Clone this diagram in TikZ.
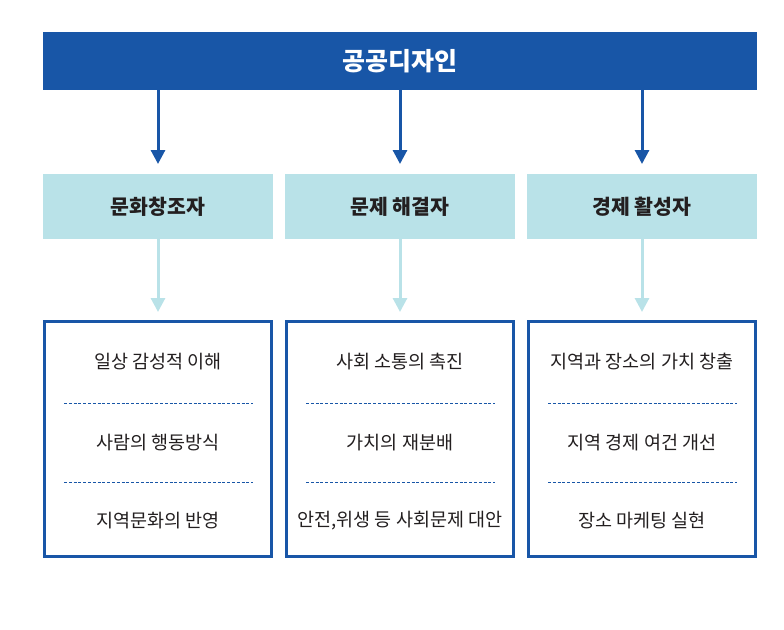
\documentclass[tikz,border=0pt]{standalone}
\usepackage{fontspec}
\setmainfont{Noto Sans CJK KR}
\usetikzlibrary{arrows.meta}
\definecolor{dblue}{HTML}{1856A7}
\definecolor{lblue}{HTML}{B9E2E8}
\definecolor{txt}{HTML}{231F20}
\begin{document}
\begin{tikzpicture}[x=1pt,y=-1pt,
  topbox/.style={fill=dblue,draw=none,minimum width=714pt,minimum height=58pt,inner sep=0pt,text=white,font=\bfseries\fontsize{25}{30}\selectfont},
  midbox/.style={fill=lblue,draw=none,minimum width=230pt,minimum height=65pt,inner sep=0pt,text=txt,font=\bfseries\fontsize{20.5}{24}\selectfont},
  botbox/.style={draw=dblue,line width=3pt,fill=white,minimum width=227pt,minimum height=235pt,inner sep=0pt},
  item/.style={text=txt,font=\fontsize{18.5}{22}\selectfont,inner sep=0pt},
  darr/.style={draw=dblue,line width=3pt,-{Triangle[width=14pt,length=14pt]}},
  larr/.style={draw=lblue,line width=3pt,-{Triangle[width=14pt,length=14pt]}},
  sep/.style={draw=dblue,line width=0.7pt,dash pattern=on 3pt off 1.8pt}]
\useasboundingbox (0,0) rectangle (784,629);
\node[topbox] (top) at (400,61) {공공디자인};
\node[midbox] (m1) at (158,206.5) {문화창조자};
\node[midbox] (m2) at (400,206.5) {문제 해결자};
\node[midbox] (m3) at (642,206.5) {경제 활성자};
\node[botbox] (b1) at (158,439) {};
\node[botbox] (b2) at (400,439) {};
\node[botbox] (b3) at (642,439) {};
\coordinate (t1) at (158,90); \coordinate (t2) at (400,90); \coordinate (t3) at (642,90);
\coordinate (e1) at (158,164); \coordinate (e2) at (400,164); \coordinate (e3) at (642,164);
\coordinate (f1) at (158,312); \coordinate (f2) at (400,312); \coordinate (f3) at (642,312);
\draw[darr] (t1) -- (e1);
\draw[darr] (t2) -- (e2);
\draw[darr] (t3) -- (e3);
\draw[larr] (m1.south) -- (f1);
\draw[larr] (m2.south) -- (f2);
\draw[larr] (m3.south) -- (f3);
\foreach \c in {158,400,642}{
  \draw[sep] (\c-94,403) -- (\c+95,403);
  \draw[sep] (\c-94,482) -- (\c+95,482);
}
\node[item] (a1) at (158,362) {일상 감성적 이해};
\node[item] (a2) at (158,443) {사람의 행동방식};
\node[item] (a3) at (158,521) {지역문화의 반영};
\node[item] (c1) at (400,362) {사회 소통의 촉진};
\node[item] (c2) at (400,443) {가치의 재분배};
\node[item] (c3) at (400,521) {안전,위생 등 사회문제 대안};
\node[item] (d1) at (642,362) {지역과 장소의 가치 창출};
\node[item] (d2) at (642,443) {지역 경제 여건 개선};
\node[item] (d3) at (642,521) {장소 마케팅 실현};
\end{tikzpicture}
\end{document}
